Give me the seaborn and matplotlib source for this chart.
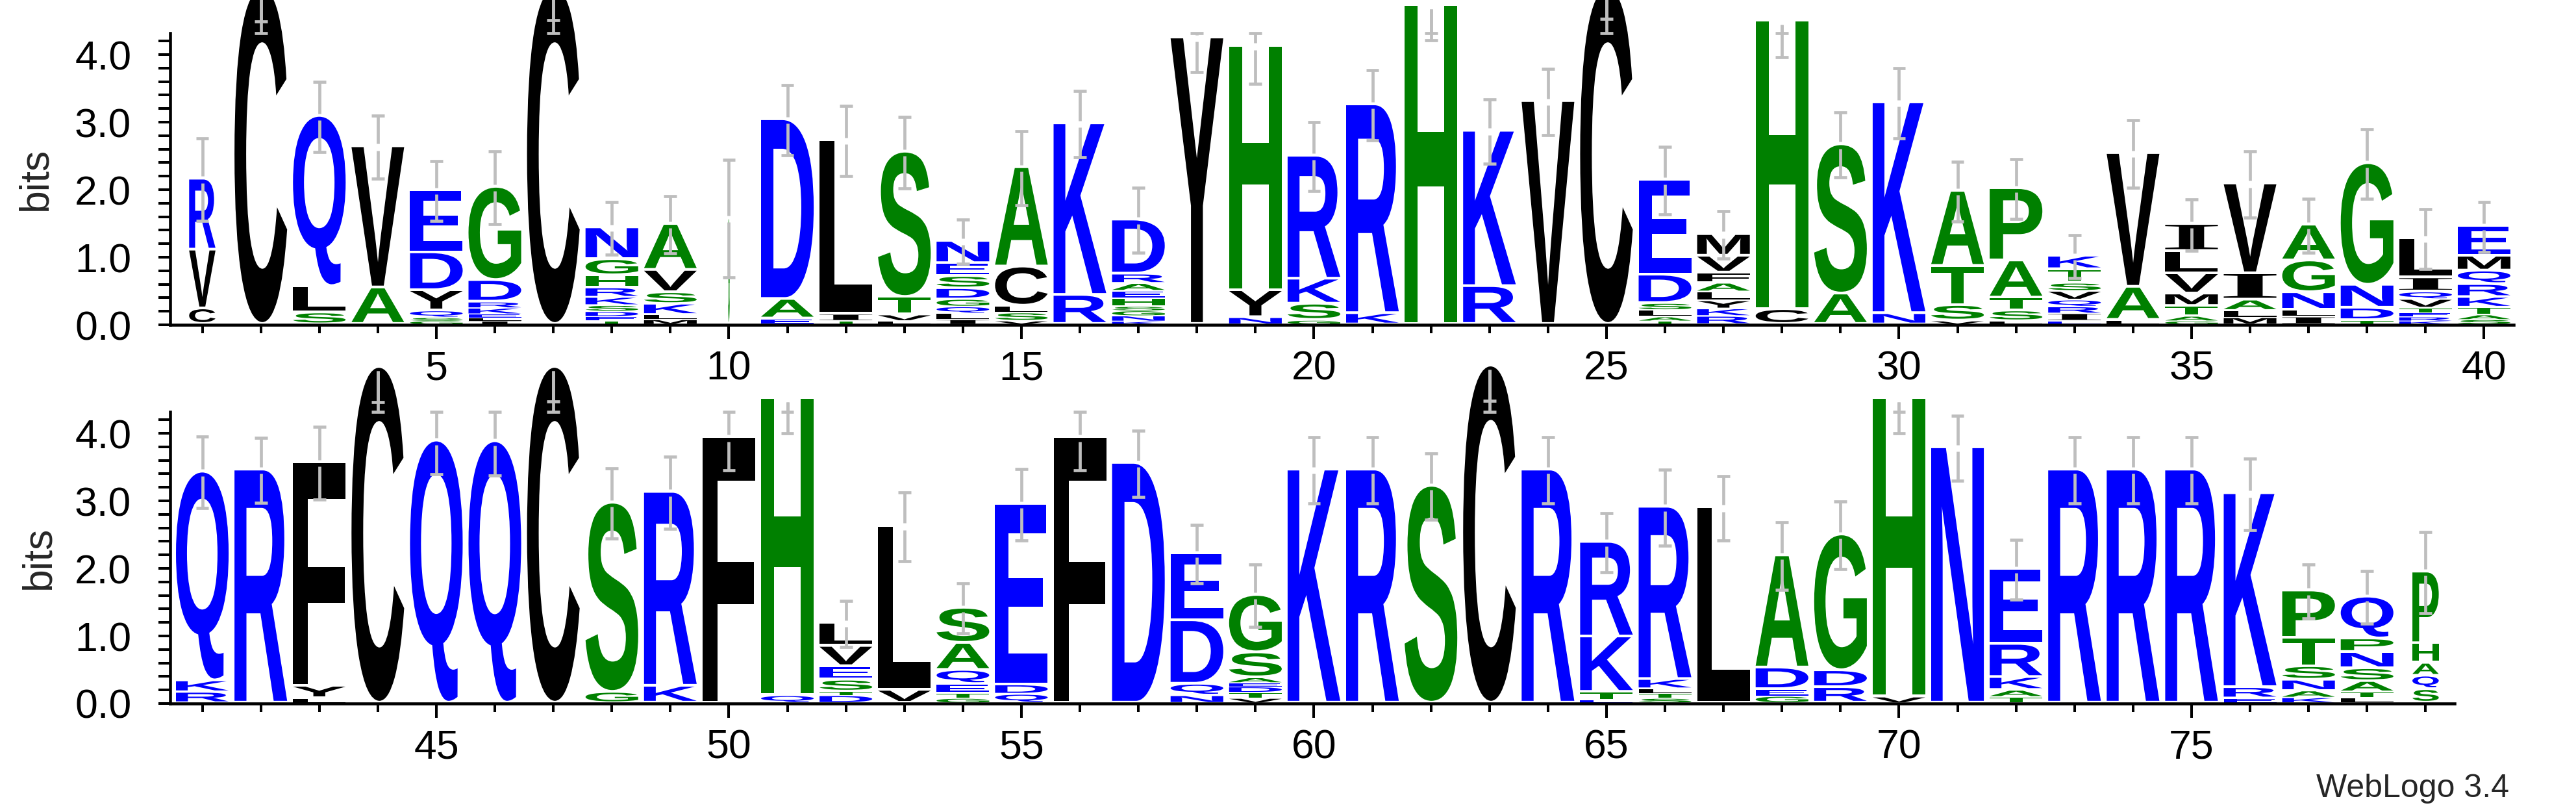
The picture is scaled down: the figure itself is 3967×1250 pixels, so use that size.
import matplotlib
matplotlib.use("Agg")
import matplotlib.pyplot as plt
import seaborn as sns
from matplotlib.textpath import TextPath
from matplotlib.font_manager import FontProperties
from matplotlib.patches import PathPatch
from matplotlib.transforms import Affine2D
from matplotlib.ticker import MultipleLocator, FormatStrFormatter

# ---- data: letters listed top -> bottom of each stack, heights in bits ----
top_letters = ["RVC", "C", "QLS", "VA", "EDYQSG", "GDRKELI", "C", "NGHRKSDET", "AVSKLM", "G",
               "DAE", "LIT", "STVL", "NESDGQLI", "ACLSV", "KR", "DRAEHSGNK", "Y", "HYN", "RKSG",
               "RK", "H", "KR", "V", "C", "EDSLAT", "MVFALYKR", "HC", "SA", "KN",
               "ATSV", "PATSL", "KTSVQRIE", "VAL", "ILVMTAG", "VIALM", "AGNLI", "GNDT", "LIQVTERK", "EMQRKTAS"]
top_heights = [
    [1.05, 0.87, 0.23], [4.97], [2.52, 0.39, 0.17], [2.09, 0.54],
    [0.92, 0.56, 0.30, 0.10, 0.05, 0.05], [1.38, 0.32, 0.09, 0.09, 0.05, 0.05, 0.05],
    [4.97], [0.47, 0.24, 0.18, 0.14, 0.12, 0.09, 0.075, 0.065, 0.05],
    [0.68, 0.33, 0.17, 0.16, 0.07, 0.07], [1.57],
    [2.66, 0.29, 0.08], [2.57, 0.10, 0.05], [2.15, 0.26, 0.09, 0.05],
    [0.33, 0.19, 0.18, 0.16, 0.11, 0.10, 0.09, 0.07], [1.47, 0.58, 0.10, 0.12, 0.05],
    [2.54, 0.43], [0.80, 0.14, 0.11, 0.11, 0.12, 0.065, 0.075, 0.08, 0.045],
    [4.24], [3.62, 0.40, 0.10], [1.82, 0.37, 0.24, 0.06],
    [3.09, 0.16], [4.72], [2.30, 0.56], [3.30], [4.97],
    [1.40, 0.42, 0.10, 0.10, 0.06, 0.05], [0.32, 0.25, 0.15, 0.13, 0.13, 0.12, 0.11, 0.12],
    [4.27, 0.22], [2.21, 0.45], [3.12, 0.16],
    [1.11, 0.58, 0.23, 0.05], [1.07, 0.55, 0.19, 0.15, 0.05],
    [0.20, 0.20, 0.12, 0.13, 0.10, 0.10, 0.11, 0.05], [1.98, 0.49, 0.06],
    [0.40, 0.33, 0.30, 0.18, 0.15, 0.07, 0.05], [1.33, 0.39, 0.16, 0.10, 0.10],
    [0.53, 0.47, 0.26, 0.10, 0.11], [1.80, 0.34, 0.18, 0.06],
    [0.58, 0.21, 0.11, 0.13, 0.07, 0.06, 0.06, 0.05], [0.44, 0.22, 0.20, 0.19, 0.15, 0.11, 0.07, 0.07],
]
top_err = [0.61, 0.48, 0.52, 0.47, 0.44, 0.54, 0.46, 0.39, 0.42, 0.87,
           0.52, 0.52, 0.53, 0.33, 0.55, 0.49, 0.48, 0.50, 0.55, 0.51,
           0.52, 0.51, 0.48, 0.49, 0.44, 0.50, 0.35, 0.53, 0.48, 0.52,
           0.44, 0.44, 0.32, 0.50, 0.38, 0.49, 0.40, 0.51, 0.44, 0.37]
top_occupancy = [0.5, 1, 1, 1, 1, 1, 1, 1, 1, 0.03,
                 1, 1, 1, 1, 1, 1, 1, 1, 1, 1,
                 1, 1, 1, 1, 1, 1, 1, 1, 1, 1,
                 1, 1, 1, 1, 1, 1, 1, 1, 1, 1]

bot_letters = ["QKR", "R", "FYL", "C", "Q", "Q", "C", "SG", "RK", "F",
               "HQ", "LVESTD", "LV", "SAQETG", "EDQ", "F", "D", "EDQN", "GSAEDTV", "K",
               "R", "S", "C", "R", "RKTE", "RKLTS", "L", "ADEG", "GDR", "HV",
               "N", "ERKAT", "R", "R", "R", "KRE", "PTSNAK", "QPNSATL", "PHAQS"]
bot_heights = [
    [3.09, 0.17, 0.16], [3.45], [3.31, 0.18, 0.07], [4.97], [3.88], [3.87], [4.97],
    [2.80, 0.16], [2.87, 0.25], [3.93], [4.40, 0.11],
    [0.34, 0.30, 0.20, 0.17, 0.06, 0.11], [2.43, 0.19],
    [0.52, 0.40, 0.21, 0.13, 0.075, 0.07], [2.67, 0.14, 0.13], [3.93], [3.55],
    [0.99, 0.94, 0.17, 0.11], [0.85, 0.37, 0.075, 0.06, 0.085, 0.085, 0.07], [3.45],
    [3.45], [3.21], [4.99], [3.45], [1.40, 0.82, 0.11, 0.05], [2.55, 0.14, 0.07, 0.07, 0.07],
    [2.89], [1.66, 0.32, 0.10, 0.10], [2.01, 0.25, 0.23], [4.42, 0.09],
    [3.78], [1.11, 0.49, 0.19, 0.10, 0.09], [3.45], [3.45], [3.45], [2.87, 0.16, 0.07],
    [0.70, 0.42, 0.20, 0.16, 0.10, 0.08], [0.62, 0.20, 0.24, 0.19, 0.16, 0.08, 0.08],
    [1.06, 0.29, 0.19, 0.20, 0.20],
]
bot_err = [0.53, 0.48, 0.54, 0.51, 0.49, 0.49, 0.50, 0.52, 0.53, 0.48,
           0.51, 0.34, 0.51, 0.37, 0.53, 0.48, 0.49, 0.43, 0.46, 0.49,
           0.49, 0.49, 0.51, 0.49, 0.44, 0.56, 0.48, 0.50, 0.50, 0.51,
           0.48, 0.44, 0.49, 0.49, 0.49, 0.53, 0.40, 0.39, 0.60]
bot_occupancy = [1, 1, 1, 1, 1, 1, 1, 1, 1, 1,
                 1, 1, 1, 1, 1, 1, 1, 1, 1, 1,
                 1, 1, 1, 1, 1, 1, 1, 1, 1, 1,
                 1, 1, 1, 1, 1, 1, 1, 1, 0.5]

YMAX = 4.32

# WebLogo "hydrophobicity" colour scheme
colors = {}
for aa in "RKDENQ":
    colors[aa] = "#0000FF"
for aa in "SGHTAP":
    colors[aa] = "#008000"
for aa in "YVMCLFIW":
    colors[aa] = "#000000"

sns.set_theme(style="ticks")
plt.rcParams['font.family'] = ['Liberation Sans', 'DejaVu Sans']

fp_sans = FontProperties(family='Liberation Sans', weight='bold')
fp_serif = FontProperties(family='Liberation Serif', weight='bold')
glyph_cache = {}


def glyph(ch):
    if ch not in glyph_cache:
        fp = fp_serif if ch == 'I' else fp_sans
        glyph_cache[ch] = TextPath((0, 0), ch, size=1, prop=fp)
    return glyph_cache[ch]


def draw_letter(ax, ch, x, y0, w, h):
    gap = min(0.04, 0.2 * h)
    p = glyph(ch)
    bb = p.get_extents()
    t = (Affine2D().translate(-bb.x0, -bb.y0)
         .scale(w / bb.width, (h - gap) / bb.height)
         .translate(x - w / 2, y0 + gap))
    ax.add_patch(PathPatch(t.transform_path(p), facecolor=colors[ch],
                           edgecolor='none', lw=0, clip_on=False))


def draw_errbar(ax, x, total, e):
    grey = '#BEBEBE'
    g = 0.05
    upper = min(total + e, YMAX)
    lower = total - e
    d = 1 if upper > total else -1
    kw = dict(color=grey, lw=3.4, solid_capstyle='butt', clip_on=False, zorder=5)
    ax.plot([x, x], [total + d * g, upper], **kw)
    ax.plot([x - 0.11, x + 0.11], [upper, upper], **kw)
    ax.plot([x, x], [total - g, lower], **kw)
    ax.plot([x - 0.11, x + 0.11], [lower, lower], **kw)


def draw_logo(ax, start, letters, heights, errs, occ):
    for i, (seq, hs, e, o) in enumerate(zip(letters, heights, errs, occ)):
        x = start + i
        w = 0.9 * o
        y = 0.0
        for ch, h in zip(reversed(seq), reversed(hs)):
            draw_letter(ax, ch, x, y, w, h)
            y += h
        draw_errbar(ax, x, y, e)


def style_axis(ax, first, last):
    ax.set_xlim(first - 0.55, last + 0.5)
    ax.set_ylim(0, YMAX)
    sns.despine(ax=ax)
    for s in ['left', 'bottom']:
        ax.spines[s].set_linewidth(3.3)
        ax.spines[s].set_color('black')
    ax.set_facecolor('none')
    ax.xaxis.set_major_locator(MultipleLocator(5))
    ax.xaxis.set_minor_locator(MultipleLocator(1))
    ax.yaxis.set_major_locator(MultipleLocator(1))
    ax.yaxis.set_minor_locator(MultipleLocator(0.2))
    ax.yaxis.set_major_formatter(FormatStrFormatter('%.1f'))
    ax.tick_params(axis='x', which='major', length=16, width=2.9, direction='out',
                   labelsize=45, pad=12, color='black', labelcolor='black')
    ax.tick_params(axis='x', which='minor', length=9, width=2.9, direction='out', color='black')
    ax.tick_params(axis='y', which='both', length=13, width=2.9, direction='out',
                   labelsize=45, pad=30, color='black', labelcolor='black')
    ax.text(-0.0574, 0.5, 'bits', transform=ax.transAxes, rotation=90,
            ha='center', va='center', fontsize=45)


fig = plt.figure(figsize=(39.67, 12.5), dpi=100)
ax_top = fig.add_axes([262 / 3967, 0.6, 3608.5 / 3967, 0.3594])
ax_bot = fig.add_axes([262 / 3967, 0.1336, 3518.4 / 3967, 0.3594])

style_axis(ax_top, 1, 40)
style_axis(ax_bot, 41, 79)
draw_logo(ax_top, 1, top_letters, top_heights, top_err, top_occupancy)
draw_logo(ax_bot, 41, bot_letters, bot_heights, bot_err, bot_occupancy)

fig.text(3864 / 3967, (1250 - 1214) / 1250, 'WebLogo 3.4', ha='right', va='center', fontsize=36)

fig.savefig('out.png', dpi=100, facecolor='white')
